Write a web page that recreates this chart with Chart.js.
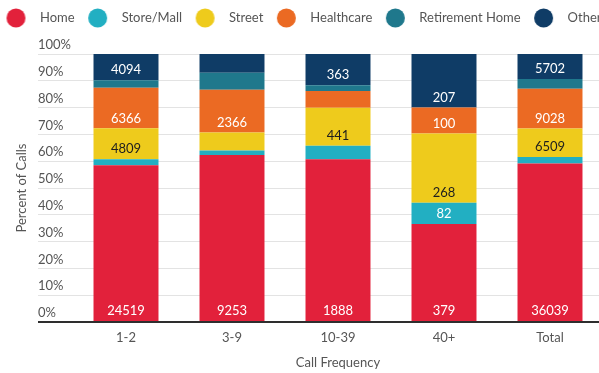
<!DOCTYPE html>
<html>
<head>
<meta charset="utf-8">
<script src="https://cdn.jsdelivr.net/npm/chart.js@4/dist/chart.umd.min.js"></script>
<style>
  html, body { margin: 0; padding: 0; background: #fff; overflow: hidden; }
  canvas { display: block; }
</style>
</head>
<body>
<canvas id="chart" width="640" height="375"></canvas>
<script>
// Call counts by call-frequency group and location type
const categories = ['1-2', '3-9', '10-39', '40+', 'Total'];
const home       = [24519, 9253, 1888, 379, 36039];
const storeMall  = [950, 260, 155, 82, 1447];
const street     = [4809, 991, 441, 268, 6509];
const healthcare = [6366, 2366, 196, 100, 9028];
const retirement = [1170, 950, 65, 0, 2185];
const other      = [4094, 1038, 363, 207, 5702];

const yTicks = [0, 10, 20, 30, 40, 50, 60, 70, 80, 90, 100];

const series = [
  { label: 'Home',              counts: home,       color: '#E2213B', text: '#ffffff' },
  { label: 'Store/Mall',        counts: storeMall,  color: '#22AFC2', text: '#ffffff' },
  { label: 'Street',            counts: street,     color: '#EECB1C', text: '#1e1e1e' },
  { label: 'Healthcare',        counts: healthcare, color: '#EB6A23', text: '#ffffff' },
  { label: 'Retirement Home',   counts: retirement, color: '#1F788C', text: '#ffffff' },
  { label: 'Other',             counts: other,      color: '#0F3C66', text: '#ffffff' }
];

// Column totals, used to express each segment as a share of its bar
const columnTotals = categories.map((_, i) => series.reduce((s, d) => s + d.counts[i], 0));

const FONT = 'Lato, "Open Sans", sans-serif';
const GREY = '#555555';

// Round legend markers drawn on small canvases
function makeDot(color) {
  const c = document.createElement('canvas');
  c.width = 30; c.height = 20;
  const g = c.getContext('2d');
  g.fillStyle = color;
  g.beginPath();
  g.arc(12.5, 10, 9.5, 0, Math.PI * 2);
  g.fill();
  return c;
}
const legendDots = series.map(s => makeDot(s.color));

// Count labels inside each segment, placed just above the segment's base
const segmentLabels = {
  id: 'segmentLabels',
  afterDatasetsDraw(chart) {
    const ctx = chart.ctx;
    ctx.save();
    ctx.font = '13px ' + FONT;
    ctx.textAlign = 'center';
    ctx.textBaseline = 'middle';
    chart.data.datasets.forEach((ds, di) => {
      const meta = chart.getDatasetMeta(di);
      meta.data.forEach((bar, i) => {
        if (ds.data[i] < 7.5) return;
        const p = bar.getProps(['x', 'base'], true);
        ctx.fillStyle = ds.labelColor;
        ctx.fillText(String(ds.counts[i]), p.x, p.base - 10);
      });
    });
    ctx.restore();
  }
};

// Keep the legend row pinned near the top edge, leaving a gap above the plot
const legendAtTop = {
  id: 'legendAtTop',
  afterLayout(chart) {
    const lg = chart.legend;
    if (!lg) return;
    const h = lg.bottom - lg.top;
    lg.top = 1;
    lg.bottom = 1 + h;
  }
};

const CANVAS_W = 640, CANVAS_H = 375;
const AREA_LEFT = 73, AREA_RIGHT = 603, AREA_TOP = 54, AREA_BOTTOM = 322;

new Chart(document.getElementById('chart'), {
  type: 'bar',
  data: {
    labels: categories,
    datasets: series.map(s => ({
      label: s.label,
      counts: s.counts,
      labelColor: s.text,
      data: s.counts.map((v, i) => v / columnTotals[i] * 100),
      backgroundColor: s.color,
      borderWidth: 0,
      barPercentage: 0.613,
      categoryPercentage: 1
    }))
  },
  options: {
    responsive: false,
    animation: false,
    devicePixelRatio: 1,
    layout: { padding: { left: -7, top: 1, right: 0, bottom: 0 } },
    plugins: {
      tooltip: { enabled: false },
      legend: {
        position: 'top',
        align: 'start',
        labels: {
          usePointStyle: true,
          pointStyleWidth: 30,
          padding: 10.5,
          color: GREY,
          font: { family: FONT, size: 13 },
          generateLabels(chart) {
            const items = Chart.defaults.plugins.legend.labels.generateLabels(chart);
            items.forEach((it, i) => { it.pointStyle = legendDots[i]; });
            return items;
          }
        }
      }
    },
    scales: {
      x: {
        stacked: true,
        grid: { display: false, drawTicks: false },
        border: { display: true, color: '#2e2e2e', width: 2, z: 1 },
        ticks: { color: GREY, font: { family: FONT, size: 13 }, padding: 8 },
        title: {
          display: true,
          text: 'Call Frequency',
          color: GREY,
          font: { family: FONT, size: 13 },
          padding: { top: 10, bottom: 4 }
        },
        afterFit(scale) {
          scale.height = CANVAS_H - AREA_BOTTOM;
          scale.paddingLeft = 0;
          scale.paddingRight = CANVAS_W - AREA_RIGHT;
        }
      },
      y: {
        stacked: true,
        min: 0,
        max: 100,
        afterBuildTicks(scale) {
          scale.ticks = yTicks.map(v => ({ value: v }));
        },
        ticks: {
          callback: v => v + '%',
          crossAlign: 'far',
          labelOffset: -9,
          color: GREY,
          font: { family: FONT, size: 13 }
        },
        grid: {
          color: c => (c.tick && c.tick.value === 0) ? '#2e2e2e' : '#e3e3e3',
          tickColor: c => (c.tick && c.tick.value === 0) ? '#2e2e2e' : '#e3e3e3',
          lineWidth: c => (c.tick && c.tick.value === 0) ? 2 : 1,
          tickWidth: c => (c.tick && c.tick.value === 0) ? 2 : 1,
          tickLength: 35
        },
        border: { display: false },
        title: {
          display: true,
          text: 'Percent of Calls',
          color: GREY,
          font: { family: FONT, size: 13 },
          padding: { top: -24, bottom: 0 }
        },
        afterFit(scale) {
          scale.width = 35;
          scale.paddingLeft = AREA_LEFT;
          scale.paddingTop = AREA_TOP;
        }
      }
    }
  },
  plugins: [segmentLabels, legendAtTop]
});
</script>
</body>
</html>
